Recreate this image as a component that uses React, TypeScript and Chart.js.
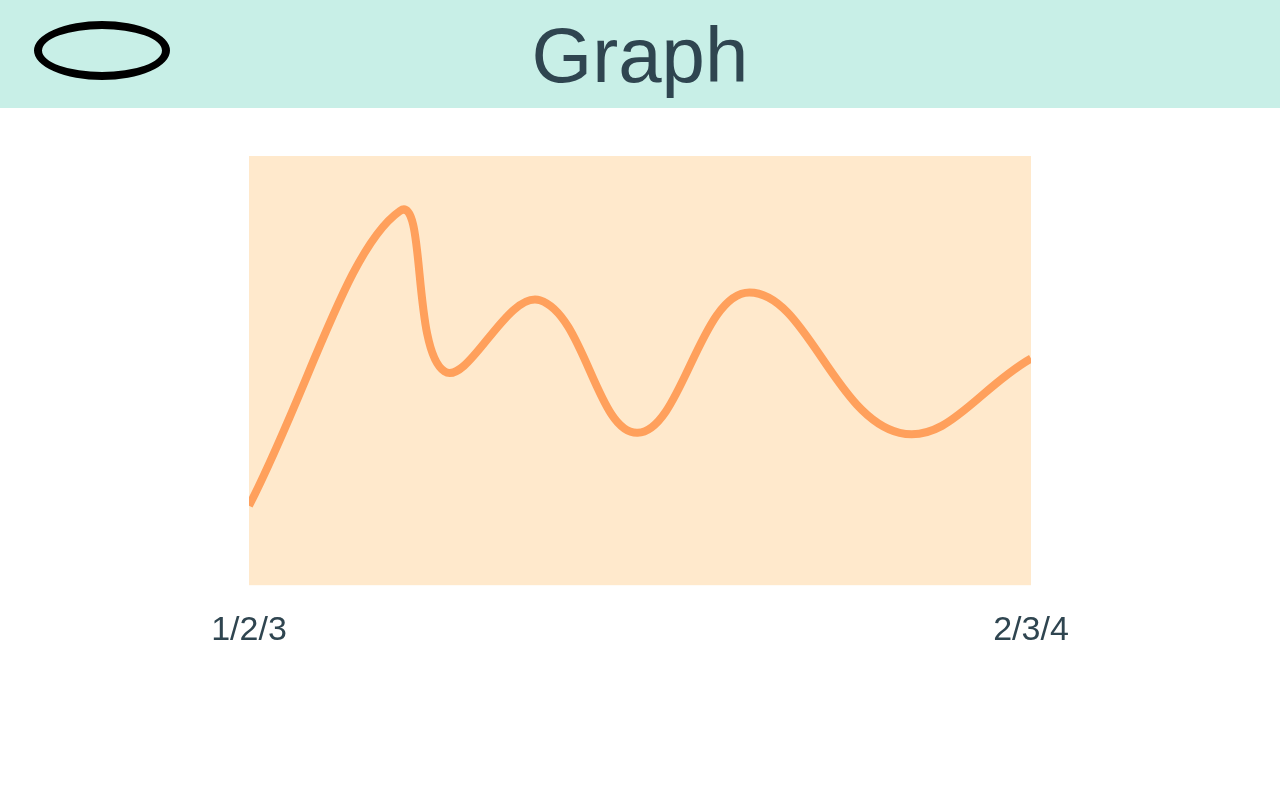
import { useEffect, useRef } from "react";
import { Chart, registerables, Plugin } from "chart.js";

Chart.register(...registerables);

// positions along the date range (0 = 1/2/3, 1 = 2/3/4)
const xValues = [0, 0.193, 0.25, 0.372, 0.497, 0.64, 0.832, 1];
const yValues = [18.5, 87.2, 49.8, 66.4, 35.5, 68.2, 35.5, 52.8];
const tickLabels = ["1/2/3", "2/3/4"];

const areaBackground: Plugin<"line"> = {
  id: "areaBackground",
  beforeDraw: (chart) => {
    const { ctx, chartArea } = chart;
    ctx.save();
    ctx.fillStyle = "#ffe9cc";
    ctx.fillRect(chartArea.left, chartArea.top, chartArea.right - chartArea.left, chartArea.bottom - chartArea.top);
    ctx.restore();
  },
};

const LineGraph = () => {
  const chartRef = useRef<HTMLCanvasElement>(null);

  useEffect(() => {
    if (!chartRef.current) return;
    const chart = new Chart(chartRef.current, {
      type: "line",
      data: {
        datasets: [
          {
            data: xValues.map((x, i) => ({ x, y: yValues[i] })),
            borderColor: "#ffa05c",
            borderWidth: 8,
            pointRadius: 0,
            tension: 0.4,
            fill: false,
          },
        ],
      },
      options: {
        animation: false,
        responsive: false,
        layout: { padding: { left: 249, right: 249, top: 48, bottom: 25 } },
        plugins: { legend: { display: false }, tooltip: { enabled: false } },
        scales: {
          x: {
            type: "linear",
            min: 0,
            max: 1,
            grid: { display: false },
            border: { display: false },
            ticks: {
              stepSize: 1,
              padding: 17,
              color: "#2f4550",
              font: { family: "Liberation Sans, Arial, sans-serif", size: 34 },
              maxRotation: 0,
              callback: (v) => tickLabels[Number(v)] ?? "",
            },
          },
          y: { display: false, min: 0, max: 100 },
        },
      },
      plugins: [areaBackground],
    });
    return () => chart.destroy();
  }, []);

  return <canvas ref={chartRef} width={1280} height={585} style={{ display: "block" }} />;
};

export default function App() {
  useEffect(() => {
    document.body.style.margin = "0";
  }, []);

  return (
    <div style={{ width: 1280, height: 800, background: "#fff", fontFamily: "Liberation Sans, Arial, sans-serif" }}>
      <div style={{ position: "relative", height: 108, background: "#c8efe7" }}>
        <div
          style={{
            position: "absolute",
            left: 34,
            top: 21,
            width: 120,
            height: 43,
            border: "8px solid #000",
            borderRadius: "50%",
          }}
        />
        <div
          style={{
            position: "absolute",
            left: 0,
            right: 0,
            top: 10,
            textAlign: "center",
            fontSize: 78,
            color: "#2f4550",
            lineHeight: "90px",
          }}
        >
          Graph
        </div>
      </div>
      <LineGraph />
    </div>
  );
}
